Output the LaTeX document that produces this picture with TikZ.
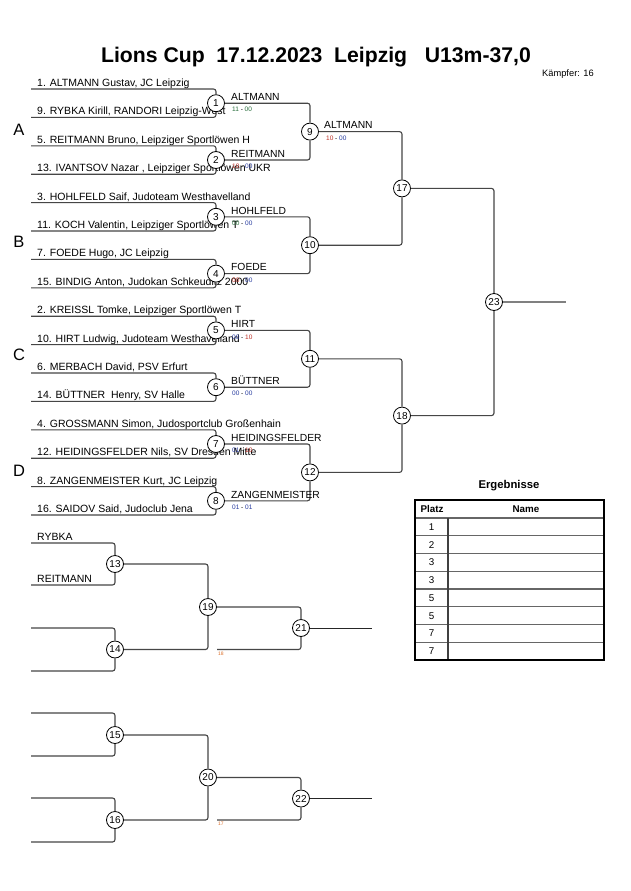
\documentclass[tikz,border=0pt]{standalone}
\usepackage{fontspec}
\setmainfont{Liberation Sans}
\definecolor{lncol}{RGB}{70,70,70}
\definecolor{scA}{RGB}{40,110,60}
\definecolor{scB}{RGB}{40,60,160}
\definecolor{scR}{RGB}{190,50,40}
\definecolor{orng}{RGB}{220,110,40}
\begin{document}
\begin{tikzpicture}[x=1pt,y=-1pt,
  ln/.style={draw=lncol,line width=1.1pt,rounded corners=2.5pt},
  circ/.style={circle,draw=black,line width=0.8pt,fill=white,minimum size=17pt,inner sep=0pt,font=\fontsize{10}{10}\selectfont},
  entry/.style={anchor=base west,inner sep=0pt,font=\fontsize{10.5}{12}\selectfont},
  win/.style={anchor=base west,inner sep=0pt,font=\fontsize{10.3}{12}\selectfont},
  score/.style={anchor=west,inner sep=0pt,font=\fontsize{6.5}{7}\selectfont},
  grp/.style={font=\fontsize{16.5}{18}\selectfont},
  tiny/.style={anchor=west,inner sep=0pt,text=orng,font=\fontsize{5}{5}\selectfont}]
\useasboundingbox (0,0) rectangle (630,891);
\fill[white] (0,0) rectangle (630,891);

% title
\node[font=\fontsize{21.2}{22}\bfseries] (title) at (316,57.5) {Lions Cup\hspace{0.55em}17.12.2023\hspace{0.55em}Leipzig\hspace{0.83em}U13m-37,0};
\node[font=\fontsize{9.3}{10}\selectfont,anchor=west,inner sep=0pt] (kaempfer) at (542,74) {Kämpfer: 16};

% group letters
\node[grp] (gA) at (19,130) {A};
\node[grp] (gB) at (19,242) {B};
\node[grp] (gC) at (19,355) {C};
\node[grp] (gD) at (19,471) {D};

% entries
\foreach \i/\t in {1/{1. ALTMANN Gustav, JC Leipzig},
  2/{9. RYBKA Kirill, RANDORI Leipzig-West},
  3/{5. REITMANN Bruno, Leipziger Sportlöwen H},
  4/{13. IVANTSOV Nazar , Leipziger Sportlöwen UKR},
  5/{3. HOHLFELD Saif, Judoteam Westhavelland},
  6/{11. KOCH Valentin, Leipziger Sportlöwen T},
  7/{7. FOEDE Hugo, JC Leipzig},
  8/{15. BINDIG Anton, Judokan Schkeuditz 2000},
  9/{2. KREISSL Tomke, Leipziger Sportlöwen T},
  10/{10. HIRT Ludwig, Judoteam Westhavelland},
  11/{6. MERBACH David, PSV Erfurt},
  12/{14. BÜTTNER\ \ Henry, SV Halle},
  13/{4. GROSSMANN Simon, Judosportclub Großenhain},
  14/{12. HEIDINGSFELDER Nils, SV Dresden Mitte},
  15/{8. ZANGENMEISTER Kurt, JC Leipzig},
  16/{16. SAIDOV Said, Judoclub Jena}}{
  \coordinate (e\i) at (31,{89+28.4*(\i-1)});
  \node[entry] (t\i) at (37,{86.5+28.4*(\i-1)}) {\t};
}

% round 1 circles
\foreach \m in {1,...,8}{
  \node[circ] (m\m) at (216,{103.2+56.8*(\m-1)}) {\m};
}
% round 2, 3, final
\foreach \m/\k in {9/0,10/1,11/2,12/3}{
  \node[circ] (m\m) at (310,{131.6+113.6*\k}) {\m};
}
\node[circ] (m17) at (402,188.4) {17};
\node[circ] (m18) at (402,415.6) {18};
\node[circ] (m23) at (494,302) {23};
\coordinate (out23) at (566,302);

% entry lines
\foreach \m in {1,...,8}{
  \pgfmathtruncatemacro\a{2*\m-1}
  \pgfmathtruncatemacro\b{2*\m}
  \draw[ln] (e\a) -| (m\m.north);
  \draw[ln] (e\b) -| (m\m.south);
}
\draw[ln] (m1.east) -| (m9.north);
\draw[ln] (m2.east) -| (m9.south);
\draw[ln] (m3.east) -| (m10.north);
\draw[ln] (m4.east) -| (m10.south);
\draw[ln] (m5.east) -| (m11.north);
\draw[ln] (m6.east) -| (m11.south);
\draw[ln] (m7.east) -| (m12.north);
\draw[ln] (m8.east) -| (m12.south);
\draw[ln] (m9.east) -| (m17.north);
\draw[ln] (m10.east) -| (m17.south);
\draw[ln] (m11.east) -| (m18.north);
\draw[ln] (m12.east) -| (m18.south);
\draw[ln] (m17.east) -| (m23.north);
\draw[ln] (m18.east) -| (m23.south);
\draw[ln,draw=black!50,line width=1.4pt] (m23.east) -- (out23);

% winner names and scores round 1
\foreach \m/\n/\sa/\ca/\sb/\cb in {1/ALTMANN/11/scA/00/scA,
  2/REITMANN/10/scR/00/scB,
  3/HOHLFELD/00/scA/00/scB,
  4/FOEDE/00/scR/00/scB,
  5/HIRT/00/scB/10/scR,
  6/BÜTTNER/00/scB/00/scB,
  7/HEIDINGSFELDER/01/scB/10/scR,
  8/ZANGENMEISTER/01/scB/01/scB}{
  \node[win] (w\m) at (231,{103.2+56.8*(\m-1)-2.8}) {\n};
  \node[score] (s\m) at (232,{103.2+56.8*(\m-1)+6.5}) {\textcolor{\ca}{\sa} - \textcolor{\cb}{\sb}};
}
\node[win] (w9) at (324,128.8) {ALTMANN};
\node[score] (s9) at (326,138.1) {\textcolor{scR}{10} - \textcolor{scB}{00}};

% repechage
\node[circ] (m13) at (115,564) {13};
\node[circ] (m14) at (115,649.5) {14};
\node[circ] (m15) at (115,735) {15};
\node[circ] (m16) at (115,820) {16};
\node[circ] (m19) at (208,607) {19};
\node[circ] (m20) at (208,777.5) {20};
\node[circ] (m21) at (301,628) {21};
\node[circ] (m22) at (301,798.5) {22};
\coordinate (f1) at (31,543);
\coordinate (f2) at (31,585);
\coordinate (f3) at (31,628);
\coordinate (f4) at (31,671);
\coordinate (f5) at (31,713);
\coordinate (f6) at (31,756);
\coordinate (f7) at (31,798);
\coordinate (f8) at (31,842);
\coordinate (g18) at (217,649.5);
\coordinate (g17) at (217,820);
\coordinate (out21) at (372,628);
\coordinate (out22) at (372,798.5);

\node[entry] (r1) at (37,540.3) {RYBKA};
\node[entry] (r2) at (37,582.3) {REITMANN};

\draw[ln] (f1) -| (m13.north);
\draw[ln] (f2) -| (m13.south);
\draw[ln] (f3) -| (m14.north);
\draw[ln] (f4) -| (m14.south);
\draw[ln] (f5) -| (m15.north);
\draw[ln] (f6) -| (m15.south);
\draw[ln] (f7) -| (m16.north);
\draw[ln] (f8) -| (m16.south);
\draw[ln] (m13.east) -| (m19.north);
\draw[ln] (m14.east) -| (m19.south);
\draw[ln] (m15.east) -| (m20.north);
\draw[ln] (m16.east) -| (m20.south);
\draw[ln] (m19.east) -| (m21.north);
\draw[ln] (g18) -| (m21.south);
\draw[ln] (m20.east) -| (m22.north);
\draw[ln] (g17) -| (m22.south);
\draw[ln,draw=black!85,line width=1pt] (m21.east) -- (out21);
\draw[ln,draw=black!85,line width=1pt] (m22.east) -- (out22);
\node[tiny] (l18) at (218,653.5) {18};
\node[tiny] (l17) at (218,824) {17};

% results table
\node[font=\fontsize{11.3}{12}\bfseries] (erg) at (509,486) {Ergebnisse};
\foreach \k in {0,...,7}{
  \draw[draw=black!60,line width=1.2pt] (415,{518+17.75*\k}) -- (604,{518+17.75*\k});
}
\draw[draw=black!75,line width=1.2pt] (448,518) -- (448,660);
\draw[draw=black,line width=1.6pt] (415,500) rectangle (604,660);
\node[font=\fontsize{9.8}{10}\bfseries] (hplatz) at (432,509) {Platz};
\node[font=\fontsize{9.8}{10}\bfseries] (hname) at (526,509) {Name};
\foreach \k/\p in {0/1,1/2,2/3,3/3,4/5,5/5,6/7,7/7}{
  \node[font=\fontsize{9.8}{10}\selectfont] (p\k) at (431.5,{527+17.75*\k}) {\p};
}
\end{tikzpicture}
\end{document}
